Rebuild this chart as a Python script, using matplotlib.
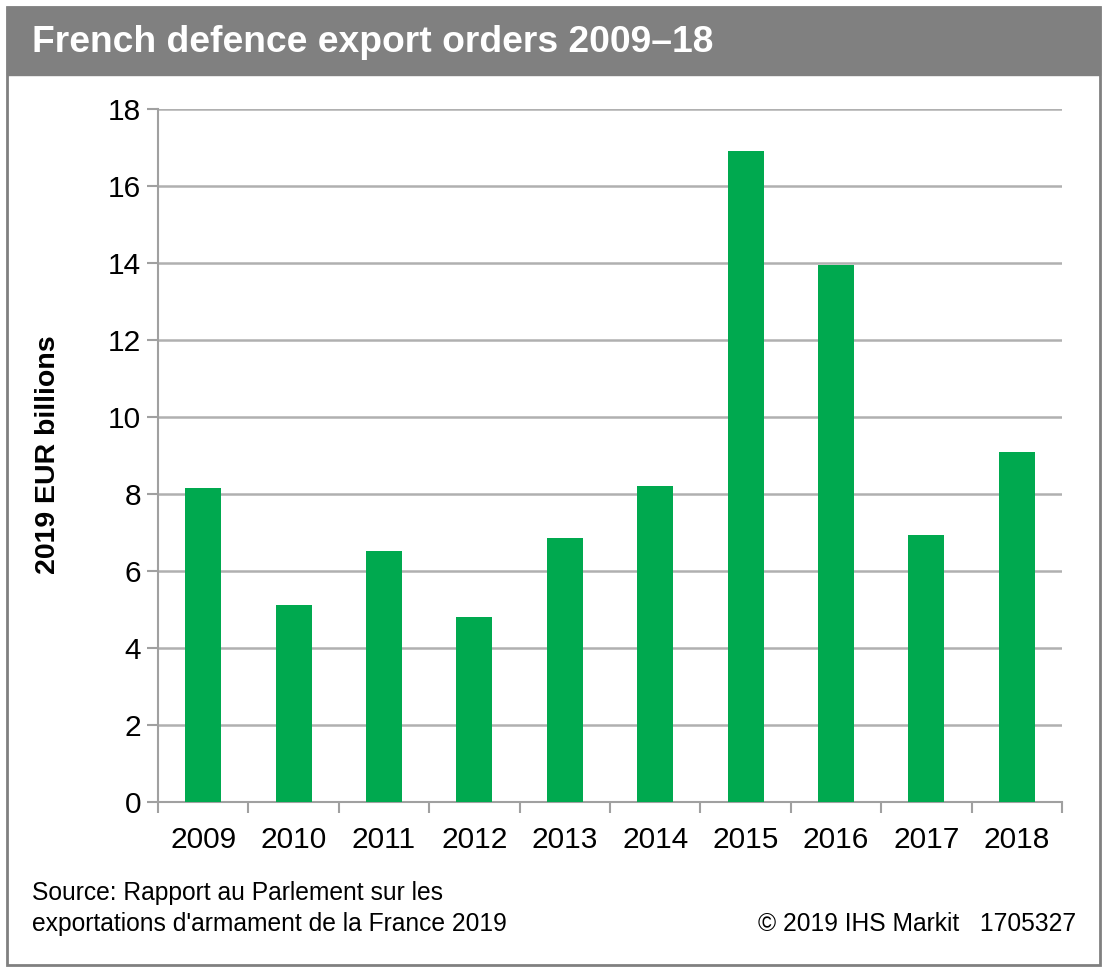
import matplotlib
matplotlib.use("Agg")
import matplotlib.pyplot as plt
from matplotlib.patches import Rectangle

years = ["2009", "2010", "2011", "2012", "2013", "2014", "2015", "2016", "2017", "2018"]
orders = [8.16, 5.12, 6.52, 4.81, 6.86, 8.21, 16.91, 13.95, 6.94, 9.09]
yticks = [0, 2, 4, 6, 8, 10, 12, 14, 16, 18]

plt.rcParams['font.family'] = ['Liberation Sans', 'DejaVu Sans']

W, H = 1112, 973
fig = plt.figure(figsize=(W / 100, H / 100), dpi=100)

def fx(px):
    return px / W

def fy(py):
    return 1 - py / H

# outer border
fig.patches.append(Rectangle((fx(7), fy(965)), fx(1100) - fx(7), fy(7) - fy(965),
                             transform=fig.transFigure, facecolor='white',
                             edgecolor='#808080', linewidth=2, zorder=-5))
# title bar
fig.patches.append(Rectangle((fx(7), fy(75)), fx(1100) - fx(7), fy(7) - fy(75),
                             transform=fig.transFigure, facecolor='#808080',
                             edgecolor='#808080', linewidth=1, zorder=-4))
fig.text(fx(32), fy(42), "French defence export orders 2009\u201318", color='white',
         fontsize=26.8, fontweight='bold', va='center', ha='left')

ax = fig.add_axes([fx(158), fy(802), fx(1062) - fx(158), fy(109) - fy(802)])
ax.patch.set_visible(False)
x = list(range(len(years)))
ax.bar(x, orders, width=0.4, color='#00a94f', zorder=3)
ax.set_xlim(-0.5, len(years) - 0.5)
ax.set_ylim(0, 18)
ax.set_yticks(yticks)
ax.set_yticklabels([str(v) for v in yticks], fontsize=21.5)
ax.set_xticks(x)
ax.set_xticklabels(years, fontsize=21.5)
ax.tick_params(axis='x', length=0, pad=17)
ax.set_xticks([i - 0.5 for i in range(len(years) + 1)], minor=True)
ax.tick_params(axis='x', which='minor', length=8, width=1.5, color='#a0a0a0')
ax.tick_params(axis='y', length=8, width=1.5, color='#a0a0a0', pad=4)
ax.yaxis.grid(True, color='#b0b0b0', linewidth=1.8, zorder=0)
ax.set_axisbelow(True)
for s in ['top', 'right']:
    ax.spines[s].set_visible(False)
ax.spines['left'].set_color('#a0a0a0')
ax.spines['left'].set_linewidth(1.5)
ax.spines['bottom'].set_color('#a0a0a0')
ax.spines['bottom'].set_linewidth(1.5)
ax.set_ylabel("2019 EUR billions", fontsize=20.5, fontweight='bold')
ax.yaxis.set_label_coords(fx(48) - fx(158), 0.5, transform=None)
ax.yaxis.label.set_transform(fig.transFigure)
ax.yaxis.label.set_position((fx(48), fy(455)))
ax.yaxis.label.set_va('center')

fig.text(fx(32), fy(893), "Source: Rapport au Parlement sur les", fontsize=17.7, ha='left', va='center')
fig.text(fx(32), fy(924), "exportations d'armament de la France 2019", fontsize=17.7, ha='left', va='center')
fig.text(fx(1076), fy(924), "\u00a9 2019 IHS Markit   1705327", fontsize=17.7, ha='right', va='center')

fig.savefig("out.png", dpi=100)
